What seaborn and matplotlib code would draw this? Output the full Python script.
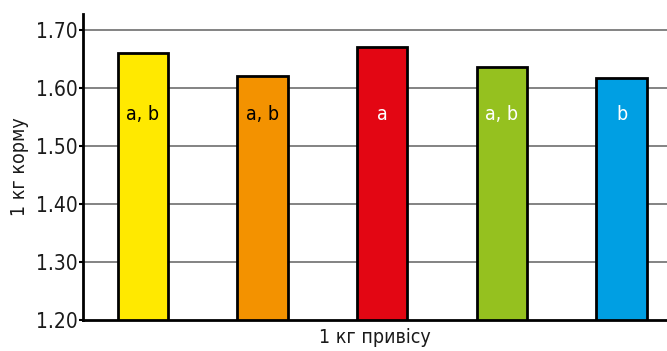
import pandas as pd
import numpy as np
import matplotlib
matplotlib.use("Agg")
import matplotlib.pyplot as plt
import seaborn as sns

# data
groups = ["1", "2", "3", "4", "5"]
values = [1.66, 1.62, 1.67, 1.637, 1.618]
letters = ["a, b", "a, b", "a", "a, b", "b"]
colors = ["#FFE900", "#F39200", "#E30613", "#95C11F", "#009FE3"]
text_colors = ["black", "black", "white", "white", "white"]
yticks = [1.20, 1.30, 1.40, 1.50, 1.60, 1.70]

sns.set_style("white")
plt.rcParams["font.family"] = ["DejaVu Sans"]
plt.rcParams["font.stretch"] = "condensed"
plt.rcParams["text.color"] = "#1a1a1a"
plt.rcParams["axes.labelcolor"] = "#1a1a1a"
plt.rcParams["ytick.color"] = "#1a1a1a"

df = pd.DataFrame({"group": groups, "value": values})

fig = plt.figure(figsize=(6.67, 3.51), dpi=100)
ax = fig.add_axes([0.1244, 0.0883, 0.8756, 0.8717])

ax.set_axisbelow(True)
for t in yticks[1:]:
    ax.axhline(t, color="#7a7a7a", lw=1.3, zorder=0)

sns.barplot(data=df, x="group", y="value", hue="group", palette=colors,
            saturation=1, legend=False, width=0.42, edgecolor="black",
            linewidth=2, ax=ax, zorder=2)

for i, (lab, tc) in enumerate(zip(letters, text_colors)):
    ax.text(i, 1.555, lab, ha="center", va="center", fontsize=14,
            color=tc, fontstretch="condensed", zorder=3)

ax.set_ylim(1.20, 1.7276)
ax.set_xlim(-0.5, 4.38)
ax.set_yticks(yticks)
ax.set_yticklabels([f"{t:.2f}" for t in yticks], fontsize=15)
ax.set_xticks([])
ax.tick_params(axis="y", length=3, width=1.5, color="black", pad=1, left=True)

for s in ["top", "right"]:
    ax.spines[s].set_visible(False)
ax.spines["left"].set_linewidth(2)
ax.spines["left"].set_color("black")
ax.spines["bottom"].set_linewidth(2)
ax.spines["bottom"].set_color("black")

ax.set_ylabel("1 кг корму", fontsize=14)
ax.yaxis.set_label_coords(-0.093, 0.5)
ax.set_xlabel("1 кг привісу", fontsize=14, labelpad=6)

fig.savefig("out.png", dpi=100)
